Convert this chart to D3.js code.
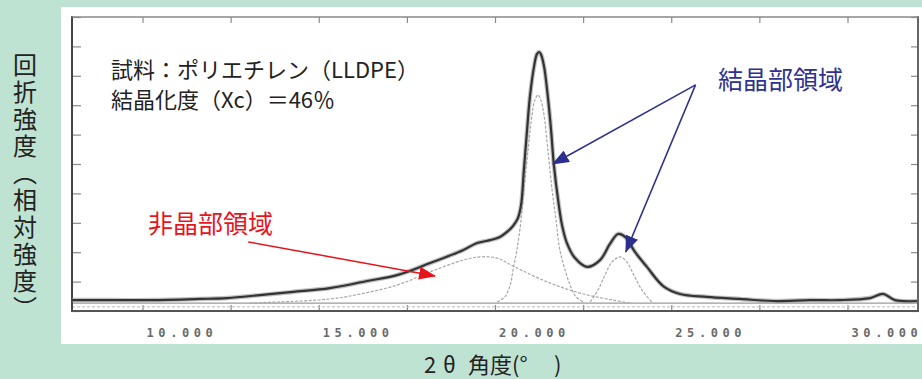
<!DOCTYPE html>
<html>

<head>
    <meta charset="UTF-8">
    <title>XRD LLDPE</title>
    <script src="https://d3js.org/d3.v7.min.js"></script>
    <style>
        body {
            margin: 0;
            background-color: #bee3d3;
        }
        text {
            font-family: "Noto Sans CJK JP", "Noto Sans", sans-serif;
        }
    </style>
</head>

<body>
    <div id="chart"></div>
    <script>
        // 2θ (deg) and intensity (relative units)
        var totalAngle = [8.00, 9.08, 10.21, 11.63, 12.40, 13.33, 14.27, 15.32, 16.37, 17.22, 18.16, 19.09, 19.49, 19.86, 20.14, 20.34, 20.51, 20.65, 20.74, 20.82, 20.91, 20.99, 21.11, 21.19, 21.25, 21.30, 21.39, 21.50, 21.59, 21.67, 21.79, 21.90, 22.04, 22.27, 22.61, 22.98, 23.26, 23.49, 23.69, 23.97, 24.31, 24.77, 25.25, 26.01, 26.95, 27.89, 28.94, 29.79, 30.64, 31.01, 31.35, 31.97];
        var totalValue = [0.37, 0.37, 0.37, 0.41, 0.44, 0.54, 0.65, 0.78, 1.02, 1.22, 1.63, 2.07, 2.31, 2.41, 2.52, 2.69, 2.89, 3.16, 3.61, 4.80, 6.16, 7.28, 8.33, 8.74, 8.81, 8.74, 8.33, 7.28, 6.16, 4.97, 3.78, 2.93, 2.31, 1.80, 1.50, 1.73, 2.28, 2.62, 2.52, 2.01, 1.50, 0.85, 0.58, 0.48, 0.41, 0.34, 0.37, 0.37, 0.44, 0.58, 0.37, 0.34];

        var amorphAngle = [13.05, 14.47, 15.32, 15.89, 17.22, 18.16, 19.09, 19.57, 20.06, 20.51, 21.48, 22.41, 23.35, 23.83];
        var amorphValue = [0.27, 0.34, 0.41, 0.51, 0.88, 1.33, 1.73, 1.84, 1.80, 1.53, 0.99, 0.61, 0.37, 0.27];

        var cryst1Angle = [20.06, 20.28, 20.43, 20.51, 20.62, 20.74, 20.82, 20.94, 21.05, 21.13, 21.22, 21.30, 21.39, 21.50, 21.62, 21.73, 21.84, 21.99, 22.13, 22.30, 22.50];
        var cryst1Value = [0.31, 0.48, 0.88, 1.39, 2.07, 3.10, 4.12, 5.48, 6.67, 7.18, 7.35, 7.18, 6.67, 5.48, 4.12, 3.10, 2.07, 1.39, 0.88, 0.48, 0.31];

        var cryst2Angle = [22.70, 22.92, 23.12, 23.32, 23.55, 23.74, 23.94, 24.17, 24.45];
        var cryst2Value = [0.31, 0.71, 1.22, 1.67, 1.84, 1.67, 1.22, 0.71, 0.31];

        var baselineValue = 0.27;

        var xTickValues = [10, 12.5, 15, 17.5, 20, 22.5, 25, 27.5, 30];
        var xLabelValues = [10, 15, 20, 25, 30];
        var xTickLabels = ['10.000', '15.000', '20.000', '25.000', '30.000'];
        var yTickValues = [0, 1, 2, 3, 4, 5, 6, 7, 8, 9, 10];

        // annotation anchors in data units
        var redArrow = [[13.0, 2.35], [18.3, 1.19]];
        var navyApex = [25.69, 7.69];
        var navyTips = [[21.64, 5.0], [23.71, 2.01]];

        var width = 922, height = 379;

        var svg = d3.select('#chart')
            .append('svg')
            .attr('width', width)
            .attr('height', height);

        // white panel
        svg.append('rect')
            .attr('x', 61).attr('y', 7)
            .attr('width', width - 61).attr('height', 337)
            .attr('fill', '#ffffff');

        var x = d3.scaleLinear().domain([8, 32]).range([72, 918]);
        var y = d3.scaleLinear().domain([0, 10]).range([311, 17]);

        function zip(a, b) {
            return a.map(function(d, i) { return [d, b[i]]; });
        }

        var line = d3.line()
            .x(function(d) { return x(d[0]); })
            .y(function(d) { return y(d[1]); })
            .curve(d3.curveCatmullRom.alpha(0.5));

        // inward ticks
        function styleAxis(g) {
            g.select('.domain').remove();
            g.selectAll('.tick line').attr('stroke', '#8a8a8a').attr('stroke-width', 1.2);
        }
        svg.append('g').attr('transform', 'translate(0,311)')
            .call(d3.axisBottom(x).tickValues(xTickValues).tickSize(-6).tickFormat(''))
            .call(styleAxis);
        svg.append('g').attr('transform', 'translate(0,17)')
            .call(d3.axisTop(x).tickValues(xTickValues).tickSize(-6).tickFormat(''))
            .call(styleAxis);
        svg.append('g').attr('transform', 'translate(72,0)')
            .call(d3.axisLeft(y).tickValues(yTickValues).tickSize(-9).tickFormat(''))
            .call(styleAxis);
        svg.append('g').attr('transform', 'translate(918,0)')
            .call(d3.axisRight(y).tickValues(yTickValues).tickSize(-7).tickFormat(''))
            .call(styleAxis);

        // baseline lines
        svg.append('line')
            .attr('x1', x(8)).attr('x2', x(32))
            .attr('y1', y(baselineValue)).attr('y2', y(baselineValue))
            .attr('stroke', '#9a9a9a').attr('stroke-width', 1.2);
        svg.append('line')
            .attr('x1', x(8)).attr('x2', x(32))
            .attr('y1', y(0.14)).attr('y2', y(0.14))
            .attr('stroke', '#bbbbbb').attr('stroke-width', 1)
            .attr('stroke-dasharray', '3,2');

        // frame: dark left / bottom / right, lighter top
        var frame = [
            [[8, 0], [8, 10], '#444', 2],
            [[8, 0], [32, 0], '#555', 1.8],
            [[32, 0], [32, 10], '#555', 1.8],
            [[8, 10], [32, 10], '#888', 1.4]
        ];
        frame.forEach(function(f) {
            svg.append('line')
                .attr('x1', x(f[0][0])).attr('y1', y(f[0][1]))
                .attr('x2', x(f[1][0])).attr('y2', y(f[1][1]))
                .attr('stroke', f[2]).attr('stroke-width', f[3])
                .attr('stroke-linecap', 'square');
        });

        // component curves
        [zip(amorphAngle, amorphValue), zip(cryst1Angle, cryst1Value), zip(cryst2Angle, cryst2Value)]
            .forEach(function(s) {
                svg.append('path')
                    .attr('d', line(s))
                    .attr('fill', 'none')
                    .attr('stroke', '#a8a8a8')
                    .attr('stroke-width', 1.2)
                    .attr('stroke-dasharray', '3,1.5');
            });

        // measured curve
        var total = zip(totalAngle, totalValue);
        svg.append('path')
            .attr('d', line(total))
            .attr('fill', 'none')
            .attr('stroke', '#9a9a9a')
            .attr('stroke-width', 4.5)
            .attr('stroke-opacity', 0.6);
        svg.append('path')
            .attr('d', line(total))
            .attr('fill', 'none')
            .attr('stroke', '#333333')
            .attr('stroke-width', 2.2);

        // x tick labels
        svg.selectAll('.xlab')
            .data(xLabelValues)
            .enter()
            .append('text')
            .attr('x', function(d) { return x(d) + 4; })
            .attr('y', 337)
            .attr('fill', '#6a6a6a')
            .style('font-family', '"DejaVu Sans Mono", monospace')
            .style('font-size', '12px')
            .style('font-weight', 'bold')
            .style('letter-spacing', '4.6px')
            .text(function(d, i) { return xTickLabels[i]; });

        // arrows
        var defs = svg.append('defs');
        function marker(id, color) {
            defs.append('marker')
                .attr('id', id)
                .attr('markerUnits', 'userSpaceOnUse')
                .attr('markerWidth', 17).attr('markerHeight', 13)
                .attr('refX', 16).attr('refY', 6.5)
                .attr('orient', 'auto')
                .append('path')
                .attr('d', 'M0,0 L17,6.5 L0,13 Z')
                .attr('fill', color);
        }
        marker('headRed', '#e8141c');
        marker('headNavy', '#2c2f8e');

        svg.append('line')
            .attr('x1', x(redArrow[0][0])).attr('y1', y(redArrow[0][1]))
            .attr('x2', x(redArrow[1][0])).attr('y2', y(redArrow[1][1]))
            .attr('stroke', '#e8141c').attr('stroke-width', 1.5)
            .attr('marker-end', 'url(#headRed)');

        navyTips.forEach(function(t) {
            svg.append('line')
                .attr('x1', x(navyApex[0])).attr('y1', y(navyApex[1]))
                .attr('x2', x(t[0])).attr('y2', y(t[1]))
                .attr('stroke', '#2c2f8e').attr('stroke-width', 1.5)
                .attr('marker-end', 'url(#headNavy)');
        });

        // annotation texts
        svg.append('text')
            .attr('x', 111).attr('y', 78)
            .attr('fill', '#222')
            .style('font-size', '22px')
            .text('試料：ポリエチレン（LLDPE）');
        svg.append('text')
            .attr('x', 111).attr('y', 108)
            .attr('fill', '#222')
            .style('font-size', '22px')
            .text('結晶化度（Xc）＝46％');
        svg.append('text')
            .attr('x', 718).attr('y', 89)
            .attr('fill', '#2e3192')
            .style('font-size', '25px')
            .text('結晶部領域');
        svg.append('text')
            .attr('x', 148).attr('y', 233)
            .attr('fill', '#e8141c')
            .style('font-size', '25px')
            .text('非晶部領域');

        // axis titles
        svg.append('text')
            .attr('x', 25).attr('y', 53)
            .attr('fill', '#222')
            .style('font-size', '24px')
            .style('writing-mode', 'vertical-rl')
            .style('letter-spacing', '3px')
            .text('回折強度（相対強度）');

        var xt = svg.append('text')
            .attr('y', 373)
            .attr('fill', '#222')
            .style('font-size', '22px');
        xt.append('tspan').attr('x', 424).text('2');
        xt.append('tspan').attr('x', 443).text('θ');
        xt.append('tspan').attr('x', 468).text('角度(°');
        xt.append('tspan').attr('x', 554).text(')');
    </script>
</body>

</html>
